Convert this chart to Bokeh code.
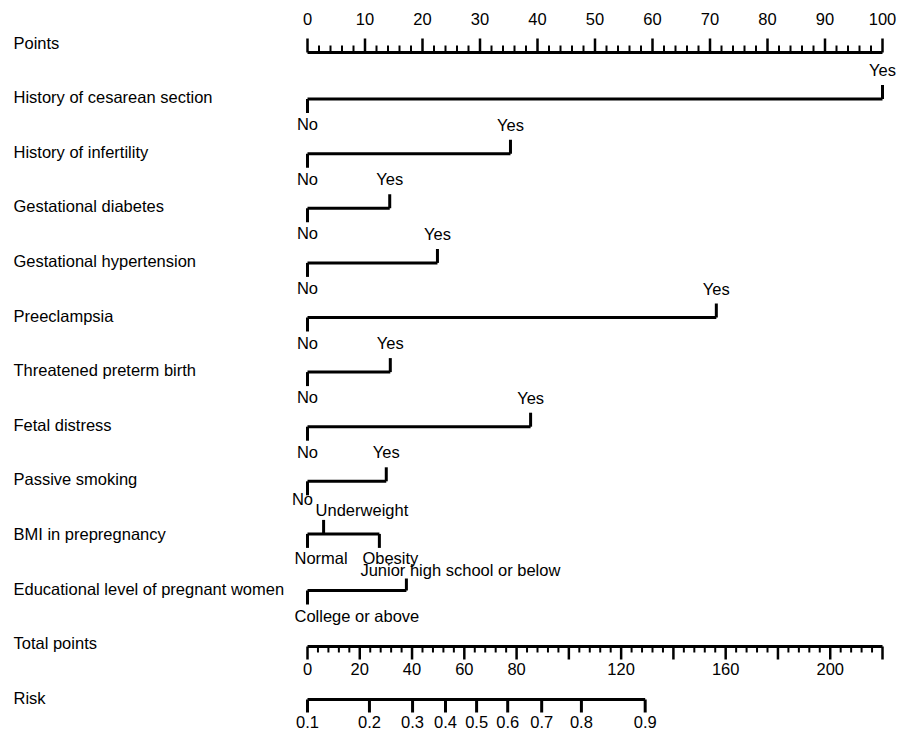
from bokeh.plotting import figure
from bokeh.models import Range1d
from bokeh.embed import file_html
from bokeh.resources import INLINE
from bokeh.core.properties import value

# ---------------- data ----------------
row_labels = ["Points", "History of cesarean section", "History of infertility",
              "Gestational diabetes", "Gestational hypertension", "Preeclampsia",
              "Threatened preterm birth", "Fetal distress", "Passive smoking",
              "BMI in prepregnancy", "Educational level of pregnant women",
              "Total points", "Risk"]

points_major = [0, 10, 20, 30, 40, 50, 60, 70, 80, 90, 100]
points_minor = [2, 4, 6, 8, 12, 14, 16, 18, 22, 24, 26, 28, 32, 34, 36, 38, 42, 44, 46, 48,
                52, 54, 56, 58, 62, 64, 66, 68, 72, 74, 76, 78, 82, 84, 86, 88, 92, 94, 96, 98]

binary_vars = ["History of cesarean section", "History of infertility", "Gestational diabetes",
               "Gestational hypertension", "Preeclampsia", "Threatened preterm birth",
               "Fetal distress", "Passive smoking"]
no_points = [0, 0, 0, 0, 0, 0, 0, 0]
yes_points = [100, 35.3, 14.3, 22.6, 71.1, 14.4, 38.8, 13.7]

bmi_levels = ["Normal", "Underweight", "Obesity"]
bmi_points = [0, 2.8, 12.5]

edu_levels = ["College or above", "Junior high school or below"]
edu_points = [0, 17.2]

total_max = 220
total_major = [0, 20, 40, 60, 80, 100, 120, 140, 160, 180, 200, 220]
total_minor = [4, 8, 12, 16, 24, 28, 32, 36, 44, 48, 52, 56, 64, 68, 72, 76, 84, 88, 92, 96,
               104, 108, 112, 116, 124, 128, 132, 136, 144, 148, 152, 156, 164, 168, 172, 176,
               184, 188, 192, 196, 204, 208, 212, 216]
total_labels = [0, 20, 40, 60, 80, 120, 160, 200]

risk_labels = ["0.1", "0.2", "0.3", "0.4", "0.5", "0.6", "0.7", "0.8", "0.9"]
risk_total = [0, 23.7, 40.2, 52.8, 64.7, 76.6, 89.6, 104.8, 129.2]

# ---------------- layout ----------------
W, H = 900, 732
PX = 5.75             # pixels per point
X0 = -307 / PX        # data x at left edge of canvas
X1 = X0 + W / PX
FONT = value("Liberation Sans")
FS = "16.5px"
LW = 3

p = figure(width=W, height=H, x_range=Range1d(X0, X1), y_range=Range1d(H, 0),
           output_backend="svg", toolbar_location=None,
           x_axis_location=None, y_axis_location=None, min_border=0)
p.grid.visible = False
p.outline_line_color = None
p.background_fill_color = "white"
p.border_fill_color = "white"


def sx(px):
    return X0 + px / PX


def tot(v):
    return v * 100.0 / total_max


def txt(x, y, s, align="center", dx=0):
    p.text([x], [y], text=[s], text_font=FONT, text_font_size=FS, text_color="black",
           text_align=align, text_baseline="middle", x_offset=dx)


row_y = [42 + 54.6 * i for i in range(len(row_labels))]
for lab, y in zip(row_labels, row_y):
    txt(sx(13), y, lab, align="left")

# Points axis
py = 52
p.segment(x0=[0], y0=[py], x1=[100], y1=[py], line_width=LW, line_color="black")
p.segment(x0=points_major, y0=[py] * len(points_major), x1=points_major,
          y1=[py - 14] * len(points_major), line_width=2.5, line_color="black")
p.segment(x0=points_minor, y0=[py] * len(points_minor), x1=points_minor,
          y1=[py - 7] * len(points_minor), line_width=2, line_color="black")
for v in points_major:
    txt(v, 18, str(v))

# binary variables
for i, (name, n, yv) in enumerate(zip(binary_vars, no_points, yes_points)):
    y = row_y[i + 1] + 2
    p.segment(x0=[n], y0=[y], x1=[yv], y1=[y], line_width=LW, line_color="black")
    p.segment(x0=[yv], y0=[y], x1=[yv], y1=[y - 14], line_width=LW, line_color="black")
    p.segment(x0=[n], y0=[y], x1=[n], y1=[y + 14], line_width=LW, line_color="black")
    txt(yv, y - 29, "Yes")
    if name == "Passive smoking":
        txt(n, y + 18, "No", dx=-5)
    else:
        txt(n, y + 25, "No")

# BMI
y = row_y[9] + 0
p.segment(x0=[min(bmi_points)], y0=[y], x1=[max(bmi_points)], y1=[y], line_width=LW, line_color="black")
for lev, v in zip(bmi_levels, bmi_points):
    if lev == "Underweight":
        p.segment(x0=[v], y0=[y], x1=[v], y1=[y - 14], line_width=LW, line_color="black")
        txt(v, y - 24, lev, align="left", dx=-8)
    else:
        p.segment(x0=[v], y0=[y], x1=[v], y1=[y + 14], line_width=LW, line_color="black")
        txt(v, y + 24, lev, align="left", dx=-13 if lev == "Normal" else -17)

# Education
y = row_y[10] + 2
p.segment(x0=[edu_points[0]], y0=[y], x1=[edu_points[1]], y1=[y], line_width=LW, line_color="black")
p.segment(x0=[edu_points[1]], y0=[y], x1=[edu_points[1]], y1=[y - 12], line_width=LW, line_color="black")
p.segment(x0=[edu_points[0]], y0=[y], x1=[edu_points[0]], y1=[y + 14], line_width=LW, line_color="black")
txt(edu_points[1], y - 21, edu_levels[1], align="left", dx=-46)
txt(edu_points[0], y + 25, edu_levels[0], align="left", dx=-13)

# Total points axis
ty = 646
p.segment(x0=[tot(0)], y0=[ty], x1=[tot(total_max)], y1=[ty], line_width=LW, line_color="black")
p.segment(x0=[tot(v) for v in total_major], y0=[ty] * len(total_major),
          x1=[tot(v) for v in total_major], y1=[ty + 13] * len(total_major),
          line_width=2.5, line_color="black")
p.segment(x0=[tot(v) for v in total_minor], y0=[ty] * len(total_minor),
          x1=[tot(v) for v in total_minor], y1=[ty + 6] * len(total_minor),
          line_width=2, line_color="black")
for v in total_labels:
    txt(tot(v), ty + 22, str(v))

# Risk axis
ry = 699
p.segment(x0=[tot(risk_total[0])], y0=[ry], x1=[tot(risk_total[-1])], y1=[ry],
          line_width=LW, line_color="black")
p.segment(x0=[tot(v) for v in risk_total], y0=[ry] * len(risk_total),
          x1=[tot(v) for v in risk_total], y1=[ry + 13] * len(risk_total),
          line_width=LW, line_color="black")
for v, lab in zip(risk_total, risk_labels):
    txt(tot(v), ry + 22, lab)

open("out.html", "w").write(file_html(p, INLINE))
